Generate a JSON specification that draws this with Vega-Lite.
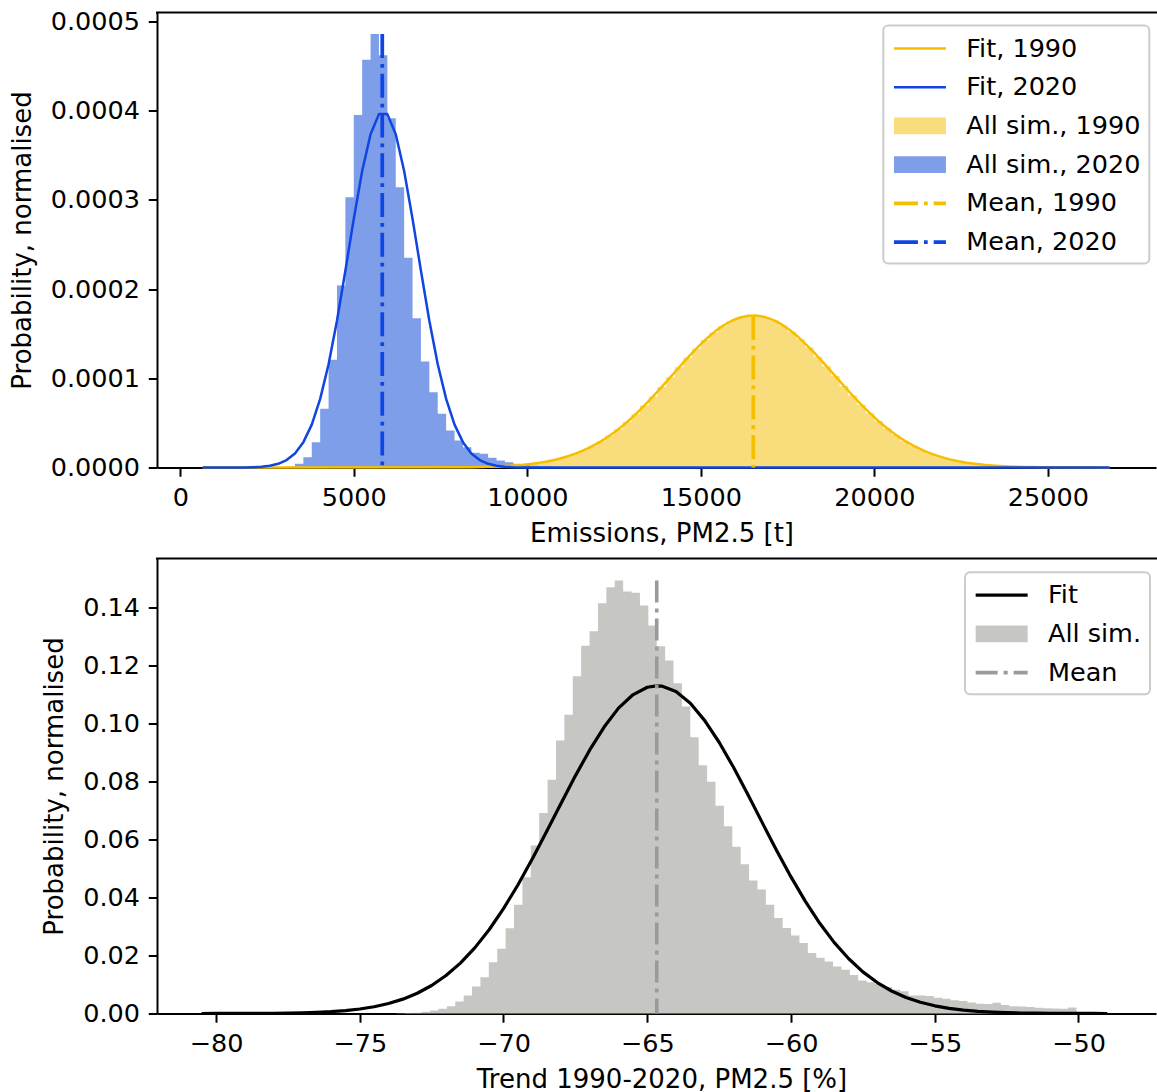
{
  "$schema": "https://vega.github.io/schema/vega-lite/v6.json",
  "background": "white",
  "padding": {"left": 9, "top": 8.5, "right": 0, "bottom": 0},
  "bounds": "flush",
  "spacing": 91,
  "config": {
    "font": "DejaVu Sans",
    "view": {"stroke": null},
    "axis": {
      "labelFont": "DejaVu Sans", "labelFontSize": 25.5, "labelColor": "#000000",
      "titleFont": "DejaVu Sans", "titleFontSize": 26, "titleFontWeight": "normal", "titleColor": "#000000",
      "tickColor": "#000000", "tickWidth": 2, "tickSize": 8.75, "labelPadding": 8.75,
      "domainColor": "#000000", "domainWidth": 2, "grid": false, "titlePadding": 10,
      "labelFlush": false, "labelOverlap": false
    },
    "axisY": {"titlePadding": 15},
    "legend": {"labelFont": "DejaVu Sans", "labelFontSize": 25.5, "labelColor": "#000000", "labelLimit": 400}
  },
  "resolve": {"scale": {"color": "independent"}, "legend": {"color": "independent"}},
  "datasets": {
    "hist_top": [
      {"series": "All sim., 1990", "x0": 8500, "p": 5.8e-7},
      {"series": "All sim., 1990", "x0": 8750, "p": 8.3e-7},
      {"series": "All sim., 1990", "x0": 9000, "p": 1.17e-6},
      {"series": "All sim., 1990", "x0": 9250, "p": 1.63e-6},
      {"series": "All sim., 1990", "x0": 9500, "p": 2.25e-6},
      {"series": "All sim., 1990", "x0": 9750, "p": 3.06e-6},
      {"series": "All sim., 1990", "x0": 10000, "p": 4.12e-6},
      {"series": "All sim., 1990", "x0": 10250, "p": 5.48e-6},
      {"series": "All sim., 1990", "x0": 10500, "p": 7.21e-6},
      {"series": "All sim., 1990", "x0": 10750, "p": 9.38e-6},
      {"series": "All sim., 1990", "x0": 11000, "p": 1.206e-5},
      {"series": "All sim., 1990", "x0": 11250, "p": 1.533e-5},
      {"series": "All sim., 1990", "x0": 11500, "p": 1.927e-5},
      {"series": "All sim., 1990", "x0": 11750, "p": 2.394e-5},
      {"series": "All sim., 1990", "x0": 12000, "p": 2.941e-5},
      {"series": "All sim., 1990", "x0": 12250, "p": 3.573e-5},
      {"series": "All sim., 1990", "x0": 12500, "p": 4.291e-5},
      {"series": "All sim., 1990", "x0": 12750, "p": 5.093e-5},
      {"series": "All sim., 1990", "x0": 13000, "p": 5.979e-5},
      {"series": "All sim., 1990", "x0": 13250, "p": 6.939e-5},
      {"series": "All sim., 1990", "x0": 13500, "p": 7.961e-5},
      {"series": "All sim., 1990", "x0": 13750, "p": 9.031e-5},
      {"series": "All sim., 1990", "x0": 14000, "p": 1.0129e-4},
      {"series": "All sim., 1990", "x0": 14250, "p": 1.1229e-4},
      {"series": "All sim., 1990", "x0": 14500, "p": 1.231e-4},
      {"series": "All sim., 1990", "x0": 14750, "p": 1.3341e-4},
      {"series": "All sim., 1990", "x0": 15000, "p": 1.4293e-4},
      {"series": "All sim., 1990", "x0": 15250, "p": 1.514e-4},
      {"series": "All sim., 1990", "x0": 15500, "p": 1.5857e-4},
      {"series": "All sim., 1990", "x0": 15750, "p": 1.642e-4},
      {"series": "All sim., 1990", "x0": 16000, "p": 1.6808e-4},
      {"series": "All sim., 1990", "x0": 16250, "p": 1.7011e-4},
      {"series": "All sim., 1990", "x0": 16500, "p": 1.7021e-4},
      {"series": "All sim., 1990", "x0": 16750, "p": 1.6837e-4},
      {"series": "All sim., 1990", "x0": 17000, "p": 1.6468e-4},
      {"series": "All sim., 1990", "x0": 17250, "p": 1.5924e-4},
      {"series": "All sim., 1990", "x0": 17500, "p": 1.5222e-4},
      {"series": "All sim., 1990", "x0": 17750, "p": 1.4387e-4},
      {"series": "All sim., 1990", "x0": 18000, "p": 1.3443e-4},
      {"series": "All sim., 1990", "x0": 18250, "p": 1.2419e-4},
      {"series": "All sim., 1990", "x0": 18500, "p": 1.1342e-4},
      {"series": "All sim., 1990", "x0": 18750, "p": 1.0243e-4},
      {"series": "All sim., 1990", "x0": 19000, "p": 9.144e-5},
      {"series": "All sim., 1990", "x0": 19250, "p": 8.07e-5},
      {"series": "All sim., 1990", "x0": 19500, "p": 7.043e-5},
      {"series": "All sim., 1990", "x0": 19750, "p": 6.075e-5},
      {"series": "All sim., 1990", "x0": 20000, "p": 5.182e-5},
      {"series": "All sim., 1990", "x0": 20250, "p": 4.371e-5},
      {"series": "All sim., 1990", "x0": 20500, "p": 3.643e-5},
      {"series": "All sim., 1990", "x0": 20750, "p": 3.003e-5},
      {"series": "All sim., 1990", "x0": 21000, "p": 2.447e-5},
      {"series": "All sim., 1990", "x0": 21250, "p": 1.972e-5},
      {"series": "All sim., 1990", "x0": 21500, "p": 1.571e-5},
      {"series": "All sim., 1990", "x0": 21750, "p": 1.237e-5},
      {"series": "All sim., 1990", "x0": 22000, "p": 9.63e-6},
      {"series": "All sim., 1990", "x0": 22250, "p": 7.41e-6},
      {"series": "All sim., 1990", "x0": 22500, "p": 5.64e-6},
      {"series": "All sim., 1990", "x0": 22750, "p": 4.24e-6},
      {"series": "All sim., 1990", "x0": 23000, "p": 3.16e-6},
      {"series": "All sim., 1990", "x0": 23250, "p": 2.32e-6},
      {"series": "All sim., 1990", "x0": 23500, "p": 1.69e-6},
      {"series": "All sim., 1990", "x0": 23750, "p": 1.21e-6},
      {"series": "All sim., 1990", "x0": 24000, "p": 8.6e-7},
      {"series": "All sim., 1990", "x0": 24250, "p": 6.1e-7},
      {"series": "All sim., 1990", "x0": 24500, "p": 4.2e-7},
      {"series": "All sim., 1990", "x0": 24750, "p": 2.9e-7},
      {"series": "All sim., 1990", "x0": 25000, "p": 0},
      {"series": "All sim., 2020", "x0": 3063, "p": 1.0e-6},
      {"series": "All sim., 2020", "x0": 3305, "p": 4.1e-6},
      {"series": "All sim., 2020", "x0": 3547, "p": 1.15e-5},
      {"series": "All sim., 2020", "x0": 3789, "p": 2.84e-5},
      {"series": "All sim., 2020", "x0": 4031, "p": 6.58e-5},
      {"series": "All sim., 2020", "x0": 4273, "p": 1.207e-4},
      {"series": "All sim., 2020", "x0": 4515, "p": 2.04e-4},
      {"series": "All sim., 2020", "x0": 4757, "p": 3.03e-4},
      {"series": "All sim., 2020", "x0": 4999, "p": 3.95e-4},
      {"series": "All sim., 2020", "x0": 5241, "p": 4.57e-4},
      {"series": "All sim., 2020", "x0": 5483, "p": 4.86e-4},
      {"series": "All sim., 2020", "x0": 5725, "p": 4.62e-4},
      {"series": "All sim., 2020", "x0": 5967, "p": 3.916e-4},
      {"series": "All sim., 2020", "x0": 6209, "p": 3.142e-4},
      {"series": "All sim., 2020", "x0": 6451, "p": 2.35e-4},
      {"series": "All sim., 2020", "x0": 6693, "p": 1.674e-4},
      {"series": "All sim., 2020", "x0": 6935, "p": 1.188e-4},
      {"series": "All sim., 2020", "x0": 7177, "p": 8.44e-5},
      {"series": "All sim., 2020", "x0": 7419, "p": 6.02e-5},
      {"series": "All sim., 2020", "x0": 7661, "p": 4.15e-5},
      {"series": "All sim., 2020", "x0": 7903, "p": 3.03e-5},
      {"series": "All sim., 2020", "x0": 8145, "p": 2.28e-5},
      {"series": "All sim., 2020", "x0": 8387, "p": 1.65e-5},
      {"series": "All sim., 2020", "x0": 8629, "p": 1.54e-5},
      {"series": "All sim., 2020", "x0": 8871, "p": 1.09e-5},
      {"series": "All sim., 2020", "x0": 9113, "p": 7.8e-6},
      {"series": "All sim., 2020", "x0": 9355, "p": 5.9e-6},
      {"series": "All sim., 2020", "x0": 9597, "p": 4.1e-6},
      {"series": "All sim., 2020", "x0": 9839, "p": 3.0e-6},
      {"series": "All sim., 2020", "x0": 10081, "p": 2.0e-6},
      {"series": "All sim., 2020", "x0": 10323, "p": 1.5e-6},
      {"series": "All sim., 2020", "x0": 10565, "p": 1.0e-6},
      {"series": "All sim., 2020", "x0": 10807, "p": 7e-7},
      {"series": "All sim., 2020", "x0": 11049, "p": 0}
    ],
    "fit_top": [
      {"series": "Fit, 1990", "x": 643, "p": 0},
      {"series": "Fit, 1990", "x": 8387, "p": 4e-7},
      {"series": "Fit, 1990", "x": 8629, "p": 5.9e-7},
      {"series": "Fit, 1990", "x": 8871, "p": 8.3e-7},
      {"series": "Fit, 1990", "x": 9113, "p": 1.15e-6},
      {"series": "Fit, 1990", "x": 9355, "p": 1.59e-6},
      {"series": "Fit, 1990", "x": 9597, "p": 2.17e-6},
      {"series": "Fit, 1990", "x": 9839, "p": 2.93e-6},
      {"series": "Fit, 1990", "x": 10081, "p": 3.91e-6},
      {"series": "Fit, 1990", "x": 10323, "p": 5.17e-6},
      {"series": "Fit, 1990", "x": 10565, "p": 6.75e-6},
      {"series": "Fit, 1990", "x": 10807, "p": 8.73e-6},
      {"series": "Fit, 1990", "x": 11049, "p": 1.118e-5},
      {"series": "Fit, 1990", "x": 11291, "p": 1.416e-5},
      {"series": "Fit, 1990", "x": 11533, "p": 1.774e-5},
      {"series": "Fit, 1990", "x": 11775, "p": 2.198e-5},
      {"series": "Fit, 1990", "x": 12017, "p": 2.696e-5},
      {"series": "Fit, 1990", "x": 12259, "p": 3.268e-5},
      {"series": "Fit, 1990", "x": 12501, "p": 3.922e-5},
      {"series": "Fit, 1990", "x": 12743, "p": 4.659e-5},
      {"series": "Fit, 1990", "x": 12985, "p": 5.472e-5},
      {"series": "Fit, 1990", "x": 13227, "p": 6.363e-5},
      {"series": "Fit, 1990", "x": 13469, "p": 7.317e-5},
      {"series": "Fit, 1990", "x": 13711, "p": 8.326e-5},
      {"series": "Fit, 1990", "x": 13953, "p": 9.372e-5},
      {"series": "Fit, 1990", "x": 14195, "p": 1.0437e-4},
      {"series": "Fit, 1990", "x": 14437, "p": 1.15e-4},
      {"series": "Fit, 1990", "x": 14679, "p": 1.2536e-4},
      {"series": "Fit, 1990", "x": 14921, "p": 1.3523e-4},
      {"series": "Fit, 1990", "x": 15163, "p": 1.4429e-4},
      {"series": "Fit, 1990", "x": 15405, "p": 1.5234e-4},
      {"series": "Fit, 1990", "x": 15647, "p": 1.5914e-4},
      {"series": "Fit, 1990", "x": 15889, "p": 1.6445e-4},
      {"series": "Fit, 1990", "x": 16131, "p": 1.6815e-4},
      {"series": "Fit, 1990", "x": 16373, "p": 1.7009e-4},
      {"series": "Fit, 1990", "x": 16615, "p": 1.7024e-4},
      {"series": "Fit, 1990", "x": 16857, "p": 1.6858e-4},
      {"series": "Fit, 1990", "x": 17099, "p": 1.6515e-4},
      {"series": "Fit, 1990", "x": 17341, "p": 1.6006e-4},
      {"series": "Fit, 1990", "x": 17583, "p": 1.535e-4},
      {"series": "Fit, 1990", "x": 17825, "p": 1.4564e-4},
      {"series": "Fit, 1990", "x": 18067, "p": 1.3671e-4},
      {"series": "Fit, 1990", "x": 18309, "p": 1.2697e-4},
      {"series": "Fit, 1990", "x": 18551, "p": 1.1666e-4},
      {"series": "Fit, 1990", "x": 18793, "p": 1.0604e-4},
      {"series": "Fit, 1990", "x": 19035, "p": 9.537e-5},
      {"series": "Fit, 1990", "x": 19277, "p": 8.488e-5},
      {"series": "Fit, 1990", "x": 19519, "p": 7.472e-5},
      {"series": "Fit, 1990", "x": 19761, "p": 6.508e-5},
      {"series": "Fit, 1990", "x": 20003, "p": 5.61e-5},
      {"series": "Fit, 1990", "x": 20245, "p": 4.781e-5},
      {"series": "Fit, 1990", "x": 20487, "p": 4.033e-5},
      {"series": "Fit, 1990", "x": 20729, "p": 3.367e-5},
      {"series": "Fit, 1990", "x": 20971, "p": 2.779e-5},
      {"series": "Fit, 1990", "x": 21213, "p": 2.271e-5},
      {"series": "Fit, 1990", "x": 21455, "p": 1.835e-5},
      {"series": "Fit, 1990", "x": 21697, "p": 1.467e-5},
      {"series": "Fit, 1990", "x": 21939, "p": 1.162e-5},
      {"series": "Fit, 1990", "x": 22181, "p": 9.08e-6},
      {"series": "Fit, 1990", "x": 22423, "p": 7.04e-6},
      {"series": "Fit, 1990", "x": 22665, "p": 5.4e-6},
      {"series": "Fit, 1990", "x": 22907, "p": 4.09e-6},
      {"series": "Fit, 1990", "x": 23149, "p": 3.07e-6},
      {"series": "Fit, 1990", "x": 23391, "p": 2.28e-6},
      {"series": "Fit, 1990", "x": 23633, "p": 1.67e-6},
      {"series": "Fit, 1990", "x": 23875, "p": 1.21e-6},
      {"series": "Fit, 1990", "x": 24117, "p": 8.7e-7},
      {"series": "Fit, 1990", "x": 24359, "p": 6.2e-7},
      {"series": "Fit, 1990", "x": 24601, "p": 4.4e-7},
      {"series": "Fit, 1990", "x": 24843, "p": 3e-7},
      {"series": "Fit, 1990", "x": 26779, "p": 0},
      {"series": "Fit, 2020", "x": 643, "p": 0},
      {"series": "Fit, 2020", "x": 1853, "p": 0},
      {"series": "Fit, 2020", "x": 2095, "p": 3.5e-7},
      {"series": "Fit, 2020", "x": 2337, "p": 8.5e-7},
      {"series": "Fit, 2020", "x": 2579, "p": 1.92e-6},
      {"series": "Fit, 2020", "x": 2821, "p": 4.11e-6},
      {"series": "Fit, 2020", "x": 3063, "p": 8.3e-6},
      {"series": "Fit, 2020", "x": 3305, "p": 1.58e-5},
      {"series": "Fit, 2020", "x": 3547, "p": 2.84e-5},
      {"series": "Fit, 2020", "x": 3789, "p": 4.81e-5},
      {"series": "Fit, 2020", "x": 4031, "p": 7.69e-5},
      {"series": "Fit, 2020", "x": 4273, "p": 1.158e-4},
      {"series": "Fit, 2020", "x": 4515, "p": 1.645e-4},
      {"series": "Fit, 2020", "x": 4757, "p": 2.205e-4},
      {"series": "Fit, 2020", "x": 4999, "p": 2.787e-4},
      {"series": "Fit, 2020", "x": 5241, "p": 3.323e-4},
      {"series": "Fit, 2020", "x": 5483, "p": 3.735e-4},
      {"series": "Fit, 2020", "x": 5725, "p": 3.961e-4},
      {"series": "Fit, 2020", "x": 5967, "p": 3.961e-4},
      {"series": "Fit, 2020", "x": 6209, "p": 3.735e-4},
      {"series": "Fit, 2020", "x": 6451, "p": 3.323e-4},
      {"series": "Fit, 2020", "x": 6693, "p": 2.787e-4},
      {"series": "Fit, 2020", "x": 6935, "p": 2.205e-4},
      {"series": "Fit, 2020", "x": 7177, "p": 1.645e-4},
      {"series": "Fit, 2020", "x": 7419, "p": 1.158e-4},
      {"series": "Fit, 2020", "x": 7661, "p": 7.69e-5},
      {"series": "Fit, 2020", "x": 7903, "p": 4.81e-5},
      {"series": "Fit, 2020", "x": 8145, "p": 2.84e-5},
      {"series": "Fit, 2020", "x": 8387, "p": 1.58e-5},
      {"series": "Fit, 2020", "x": 8629, "p": 8.3e-6},
      {"series": "Fit, 2020", "x": 8871, "p": 4.11e-6},
      {"series": "Fit, 2020", "x": 9113, "p": 1.92e-6},
      {"series": "Fit, 2020", "x": 9355, "p": 8.5e-7},
      {"series": "Fit, 2020", "x": 9597, "p": 3.5e-7},
      {"series": "Fit, 2020", "x": 9839, "p": 1e-7},
      {"series": "Fit, 2020", "x": 26779, "p": 0}
    ],
    "mean_top": [
      {"series": "Mean, 1990", "x": 16513, "top": 0.00017},
      {"series": "Mean, 2020", "x": 5820, "top": 0.000486}
    ],
    "hist_bot": [
      {"series": "All sim.", "x0": -73.722, "p": 0.0001},
      {"series": "All sim.", "x0": -73.43, "p": 0.0002},
      {"series": "All sim.", "x0": -73.138, "p": 0.0003},
      {"series": "All sim.", "x0": -72.846, "p": 0.0006},
      {"series": "All sim.", "x0": -72.554, "p": 0.001},
      {"series": "All sim.", "x0": -72.262, "p": 0.0016},
      {"series": "All sim.", "x0": -71.97, "p": 0.0025},
      {"series": "All sim.", "x0": -71.678, "p": 0.0041},
      {"series": "All sim.", "x0": -71.386, "p": 0.0062},
      {"series": "All sim.", "x0": -71.094, "p": 0.0093},
      {"series": "All sim.", "x0": -70.802, "p": 0.0125},
      {"series": "All sim.", "x0": -70.51, "p": 0.0177},
      {"series": "All sim.", "x0": -70.218, "p": 0.0223},
      {"series": "All sim.", "x0": -69.926, "p": 0.0294},
      {"series": "All sim.", "x0": -69.634, "p": 0.0375},
      {"series": "All sim.", "x0": -69.342, "p": 0.047},
      {"series": "All sim.", "x0": -69.05, "p": 0.0579},
      {"series": "All sim.", "x0": -68.758, "p": 0.0691},
      {"series": "All sim.", "x0": -68.466, "p": 0.0806},
      {"series": "All sim.", "x0": -68.174, "p": 0.0941},
      {"series": "All sim.", "x0": -67.882, "p": 0.103},
      {"series": "All sim.", "x0": -67.59, "p": 0.1163},
      {"series": "All sim.", "x0": -67.298, "p": 0.1268},
      {"series": "All sim.", "x0": -67.006, "p": 0.1318},
      {"series": "All sim.", "x0": -66.714, "p": 0.1415},
      {"series": "All sim.", "x0": -66.422, "p": 0.147},
      {"series": "All sim.", "x0": -66.13, "p": 0.1493},
      {"series": "All sim.", "x0": -65.838, "p": 0.1455},
      {"series": "All sim.", "x0": -65.546, "p": 0.1451},
      {"series": "All sim.", "x0": -65.254, "p": 0.1407},
      {"series": "All sim.", "x0": -64.962, "p": 0.1338},
      {"series": "All sim.", "x0": -64.67, "p": 0.1266},
      {"series": "All sim.", "x0": -64.378, "p": 0.1217},
      {"series": "All sim.", "x0": -64.086, "p": 0.1139},
      {"series": "All sim.", "x0": -63.794, "p": 0.1059},
      {"series": "All sim.", "x0": -63.502, "p": 0.0953},
      {"series": "All sim.", "x0": -63.21, "p": 0.0856},
      {"series": "All sim.", "x0": -62.918, "p": 0.0799},
      {"series": "All sim.", "x0": -62.626, "p": 0.0716},
      {"series": "All sim.", "x0": -62.334, "p": 0.0646},
      {"series": "All sim.", "x0": -62.042, "p": 0.0575},
      {"series": "All sim.", "x0": -61.75, "p": 0.0515},
      {"series": "All sim.", "x0": -61.458, "p": 0.0459},
      {"series": "All sim.", "x0": -61.166, "p": 0.0428},
      {"series": "All sim.", "x0": -60.874, "p": 0.0375},
      {"series": "All sim.", "x0": -60.582, "p": 0.0329},
      {"series": "All sim.", "x0": -60.29, "p": 0.0295},
      {"series": "All sim.", "x0": -59.998, "p": 0.0269},
      {"series": "All sim.", "x0": -59.706, "p": 0.0243},
      {"series": "All sim.", "x0": -59.414, "p": 0.0209},
      {"series": "All sim.", "x0": -59.122, "p": 0.0192},
      {"series": "All sim.", "x0": -58.83, "p": 0.0179},
      {"series": "All sim.", "x0": -58.538, "p": 0.0162},
      {"series": "All sim.", "x0": -58.246, "p": 0.0151},
      {"series": "All sim.", "x0": -57.954, "p": 0.0133},
      {"series": "All sim.", "x0": -57.662, "p": 0.0114},
      {"series": "All sim.", "x0": -57.37, "p": 0.0108},
      {"series": "All sim.", "x0": -57.078, "p": 0.0102},
      {"series": "All sim.", "x0": -56.786, "p": 0.0091},
      {"series": "All sim.", "x0": -56.494, "p": 0.0082},
      {"series": "All sim.", "x0": -56.202, "p": 0.0077},
      {"series": "All sim.", "x0": -55.91, "p": 0.0062},
      {"series": "All sim.", "x0": -55.618, "p": 0.0062},
      {"series": "All sim.", "x0": -55.326, "p": 0.006},
      {"series": "All sim.", "x0": -55.034, "p": 0.0054},
      {"series": "All sim.", "x0": -54.742, "p": 0.0051},
      {"series": "All sim.", "x0": -54.45, "p": 0.0046},
      {"series": "All sim.", "x0": -54.158, "p": 0.0043},
      {"series": "All sim.", "x0": -53.866, "p": 0.0038},
      {"series": "All sim.", "x0": -53.574, "p": 0.0034},
      {"series": "All sim.", "x0": -53.282, "p": 0.0033},
      {"series": "All sim.", "x0": -52.99, "p": 0.0037},
      {"series": "All sim.", "x0": -52.698, "p": 0.0029},
      {"series": "All sim.", "x0": -52.406, "p": 0.0025},
      {"series": "All sim.", "x0": -52.114, "p": 0.0024},
      {"series": "All sim.", "x0": -51.822, "p": 0.0022},
      {"series": "All sim.", "x0": -51.53, "p": 0.002},
      {"series": "All sim.", "x0": -51.238, "p": 0.0018},
      {"series": "All sim.", "x0": -50.946, "p": 0.0017},
      {"series": "All sim.", "x0": -50.654, "p": 0.0016},
      {"series": "All sim.", "x0": -50.362, "p": 0.0021},
      {"series": "All sim.", "x0": -50.07, "p": 0}
    ],
    "fit_bot": [
      {"series": "Fit", "x": -80.5, "p": 0.0000048},
      {"series": "Fit", "x": -80.0, "p": 0.000009},
      {"series": "Fit", "x": -79.5, "p": 0.0000166},
      {"series": "Fit", "x": -79.0, "p": 0.0000298},
      {"series": "Fit", "x": -78.5, "p": 0.000052},
      {"series": "Fit", "x": -78.0, "p": 0.000091},
      {"series": "Fit", "x": -77.5, "p": 0.000153},
      {"series": "Fit", "x": -77.0, "p": 0.000253},
      {"series": "Fit", "x": -76.5, "p": 0.000411},
      {"series": "Fit", "x": -76.0, "p": 0.000655},
      {"series": "Fit", "x": -75.5, "p": 0.00102},
      {"series": "Fit", "x": -75.0, "p": 0.00156},
      {"series": "Fit", "x": -74.5, "p": 0.00234},
      {"series": "Fit", "x": -74.0, "p": 0.00344},
      {"series": "Fit", "x": -73.5, "p": 0.00495},
      {"series": "Fit", "x": -73.0, "p": 0.00698},
      {"series": "Fit", "x": -72.5, "p": 0.00965},
      {"series": "Fit", "x": -72.0, "p": 0.01309},
      {"series": "Fit", "x": -71.5, "p": 0.01738},
      {"series": "Fit", "x": -71.0, "p": 0.02263},
      {"series": "Fit", "x": -70.5, "p": 0.02888},
      {"series": "Fit", "x": -70.0, "p": 0.03614},
      {"series": "Fit", "x": -69.5, "p": 0.04431},
      {"series": "Fit", "x": -69.0, "p": 0.05325},
      {"series": "Fit", "x": -68.5, "p": 0.06273},
      {"series": "Fit", "x": -68.0, "p": 0.07241},
      {"series": "Fit", "x": -67.5, "p": 0.08195},
      {"series": "Fit", "x": -67.0, "p": 0.09089},
      {"series": "Fit", "x": -66.5, "p": 0.09878},
      {"series": "Fit", "x": -66.0, "p": 0.1053},
      {"series": "Fit", "x": -65.5, "p": 0.1099},
      {"series": "Fit", "x": -65.0, "p": 0.1125},
      {"series": "Fit", "x": -64.67, "p": 0.113},
      {"series": "Fit", "x": -64.5, "p": 0.1129},
      {"series": "Fit", "x": -64.0, "p": 0.111},
      {"series": "Fit", "x": -63.5, "p": 0.107},
      {"series": "Fit", "x": -63.0, "p": 0.101},
      {"series": "Fit", "x": -62.5, "p": 0.09354},
      {"series": "Fit", "x": -62.0, "p": 0.08489},
      {"series": "Fit", "x": -61.5, "p": 0.0755},
      {"series": "Fit", "x": -61.0, "p": 0.06582},
      {"series": "Fit", "x": -60.5, "p": 0.05624},
      {"series": "Fit", "x": -60.0, "p": 0.0471},
      {"series": "Fit", "x": -59.5, "p": 0.03866},
      {"series": "Fit", "x": -59.0, "p": 0.0311},
      {"series": "Fit", "x": -58.5, "p": 0.02452},
      {"series": "Fit", "x": -58.0, "p": 0.01895},
      {"series": "Fit", "x": -57.5, "p": 0.01436},
      {"series": "Fit", "x": -57.0, "p": 0.01067},
      {"series": "Fit", "x": -56.5, "p": 0.00776},
      {"series": "Fit", "x": -56.0, "p": 0.00554},
      {"series": "Fit", "x": -55.5, "p": 0.00387},
      {"series": "Fit", "x": -55.0, "p": 0.00265},
      {"series": "Fit", "x": -54.5, "p": 0.00178},
      {"series": "Fit", "x": -54.0, "p": 0.00117},
      {"series": "Fit", "x": -53.5, "p": 0.00076},
      {"series": "Fit", "x": -53.0, "p": 0.00048},
      {"series": "Fit", "x": -52.5, "p": 0.0003},
      {"series": "Fit", "x": -52.0, "p": 0.00018},
      {"series": "Fit", "x": -51.5, "p": 0.00011},
      {"series": "Fit", "x": -51.0, "p": 0.000063},
      {"series": "Fit", "x": -50.5, "p": 0.000036},
      {"series": "Fit", "x": -50.0, "p": 0.00002},
      {"series": "Fit", "x": -49.5, "p": 0.000011},
      {"series": "Fit", "x": -49.0, "p": 0.000006}
    ],
    "mean_bot": [
      {"series": "Mean", "x": -64.67, "top": 0.1493}
    ]
  },
  "vconcat": [
    {
      "width": 999,
      "height": 455,
      "layer": [
        {
          "data": {"name": "hist_top"},
          "mark": {"type": "area", "interpolate": "step-after", "opacity": 1},
          "encoding": {
            "x": {"field": "x0", "type": "quantitative",
                  "scale": {"domain": [-671.5, 28118], "nice": false, "zero": false},
                  "axis": {"values": [0, 5000, 10000, 15000, 20000, 25000], "format": "d", "title": "Emissions, PM2.5 [t]", "titleX": 504.5}},
            "y": {"field": "p", "type": "quantitative", "stack": null,
                  "scale": {"domain": [0, 0.00051], "nice": false},
                  "axis": {"values": [0, 0.0001, 0.0002, 0.0003, 0.0004, 0.0005], "format": ".4f", "title": "Probability, normalised"}},
            "color": {"field": "series", "type": "nominal",
                      "scale": {"domain": ["Fit, 1990", "Fit, 2020", "All sim., 1990", "All sim., 2020", "Mean, 1990", "Mean, 2020"],
                                "range": ["#f5bf00", "#0f45e0", "#f9dc7c", "#7f9eea", "#f5bf00", "#0f45e0"]},
                      "legend": {
                        "title": null, "orient": "none", "legendX": 726.3, "legendY": 13,
                        "symbolSize": 676, "symbolStrokeWidth": 3.75,
                        "labelFontSize": 25.5, "labelLimit": 400, "labelOffset": 45,
                        "rowPadding": 9.7, "padding": 8,
                        "strokeColor": "#cccccc", "fillColor": "rgba(255,255,255,0.8)", "cornerRadius": 5,
                        "encoding": {
                          "legend": {"strokeWidth": {"value": 2}},
                          "symbols": {
                            "shape": {"value": {"expr": "indexof(datum.label,'All')===0 ? 'M-0.95,-0.65H3.05V0.65H-0.95Z' : indexof(datum.label,'Fit')===0 ? 'M-0.95,-0.096H3.05V0.096H-0.95Z' : 'M-0.95,0H3.05'"}},
                            "fill": {"value": {"expr": "datum.label==='All sim., 1990' ? '#f9dc7c' : datum.label==='All sim., 2020' ? '#7f9eea' : datum.label==='Fit, 1990' ? '#f5bf00' : datum.label==='Fit, 2020' ? '#0f45e0' : 'transparent'"}},
                            "stroke": {"value": {"expr": "datum.label==='Mean, 1990' ? '#f5bf00' : datum.label==='Mean, 2020' ? '#0f45e0' : 'transparent'"}},
                            "strokeOpacity": {"value": {"expr": "indexof(datum.label,'Mean')===0 ? 1 : 0"}},
                            "fillOpacity": {"value": 1},
                            "strokeDash": {"value": {"expr": "indexof(datum.label,'Mean')===0 ? [24,6,3.75,6] : [1,0]"}},
                            "strokeCap": {"value": "butt"},
                            "opacity": {"value": 1}
                          }
                        }
                      }}
          }
        },
        {
          "data": {"name": "fit_top"},
          "mark": {"type": "line", "strokeWidth": 2.5, "strokeJoin": "round"},
          "encoding": {
            "x": {"field": "x", "type": "quantitative", "scale": {"domain": [-671.5, 28118], "nice": false, "zero": false},
                  "axis": {"values": [0, 5000, 10000, 15000, 20000, 25000], "format": "d", "title": "Emissions, PM2.5 [t]", "titleX": 504.5}},
            "y": {"field": "p", "type": "quantitative", "scale": {"domain": [0, 0.00051], "nice": false},
                  "axis": {"values": [0, 0.0001, 0.0002, 0.0003, 0.0004, 0.0005], "format": ".4f", "title": "Probability, normalised"}},
            "color": {"field": "series", "type": "nominal",
                      "scale": {"domain": ["Fit, 1990", "Fit, 2020", "All sim., 1990", "All sim., 2020", "Mean, 1990", "Mean, 2020"],
                                "range": ["#f5bf00", "#0f45e0", "#f9dc7c", "#7f9eea", "#f5bf00", "#0f45e0"]},
                      "legend": null}
          }
        },
        {
          "data": {"name": "mean_top"},
          "mark": {"type": "rule", "strokeWidth": 3.75, "strokeDash": [24, 6, 3.75, 6], "strokeCap": "butt"},
          "encoding": {
            "x": {"field": "x", "type": "quantitative", "scale": {"domain": [-671.5, 28118], "nice": false, "zero": false},
                  "axis": {"values": [0, 5000, 10000, 15000, 20000, 25000], "format": "d", "title": "Emissions, PM2.5 [t]", "titleX": 504.5}},
            "y": {"field": "top", "type": "quantitative", "scale": {"domain": [0, 0.00051], "nice": false},
                  "axis": {"values": [0, 0.0001, 0.0002, 0.0003, 0.0004, 0.0005], "format": ".4f", "title": "Probability, normalised"}},
            "y2": {"datum": 0},
            "color": {"field": "series", "type": "nominal",
                      "scale": {"domain": ["Fit, 1990", "Fit, 2020", "All sim., 1990", "All sim., 2020", "Mean, 1990", "Mean, 2020"],
                                "range": ["#f5bf00", "#0f45e0", "#f9dc7c", "#7f9eea", "#f5bf00", "#0f45e0"]},
                      "legend": null}
          }
        },
        {
          "data": {"values": [{}]},
          "mark": {"type": "rule", "color": "#000000", "strokeWidth": 2, "strokeCap": "square"},
          "encoding": {
            "y": {"datum": 0.00051, "type": "quantitative", "scale": {"domain": [0, 0.00051], "nice": false},
                  "axis": {"values": [0, 0.0001, 0.0002, 0.0003, 0.0004, 0.0005], "format": ".4f", "title": "Probability, normalised"}}
          }
        }
      ]
    },
    {
      "width": 999,
      "height": 455,
      "layer": [
        {
          "data": {"name": "hist_bot"},
          "mark": {"type": "area", "interpolate": "step-after", "opacity": 1},
          "encoding": {
            "x": {"field": "x0", "type": "quantitative",
                  "scale": {"domain": [-82.052, -47.304], "nice": false, "zero": false},
                  "axis": {"values": [-80, -75, -70, -65, -60, -55, -50], "format": "d", "title": "Trend 1990-2020, PM2.5 [%]", "titleX": 504.5}},
            "y": {"field": "p", "type": "quantitative", "stack": null,
                  "scale": {"domain": [0, 0.1569], "nice": false},
                  "axis": {"values": [0, 0.02, 0.04, 0.06, 0.08, 0.1, 0.12, 0.14], "format": ".2f", "title": "Probability, normalised"}},
            "color": {"field": "series", "type": "nominal",
                      "scale": {"domain": ["Fit", "All sim.", "Mean"], "range": ["#000000", "#c6c7c3", "#9a9a9a"]},
                      "legend": {
                        "title": null, "orient": "none", "legendX": 808, "legendY": 13.7,
                        "symbolSize": 676, "symbolStrokeWidth": 3.75,
                        "labelFontSize": 25.5, "labelLimit": 400, "labelOffset": 45,
                        "rowPadding": 9.7, "padding": 8,
                        "strokeColor": "#cccccc", "fillColor": "rgba(255,255,255,0.8)", "cornerRadius": 5,
                        "encoding": {
                          "legend": {"strokeWidth": {"value": 2}},
                          "symbols": {
                            "shape": {"value": {"expr": "datum.label==='All sim.' ? 'M-0.95,-0.65H3.05V0.65H-0.95Z' : datum.label==='Fit' ? 'M-0.95,-0.123H3.05V0.123H-0.95Z' : 'M-0.95,0H3.05'"}},
                            "fill": {"value": {"expr": "datum.label==='All sim.' ? '#c6c7c3' : datum.label==='Fit' ? '#000000' : 'transparent'"}},
                            "stroke": {"value": {"expr": "datum.label==='Mean' ? '#9a9a9a' : 'transparent'"}},
                            "strokeOpacity": {"value": {"expr": "datum.label==='Mean' ? 1 : 0"}},
                            "fillOpacity": {"value": 1},
                            "strokeDash": {"value": {"expr": "datum.label==='Mean' ? [22,6,4,6] : [1,0]"}},
                            "strokeCap": {"value": "butt"},
                            "opacity": {"value": 1}
                          }
                        }
                      }}
          }
        },
        {
          "data": {"name": "fit_bot"},
          "mark": {"type": "line", "strokeWidth": 3.2, "strokeJoin": "round"},
          "encoding": {
            "x": {"field": "x", "type": "quantitative", "scale": {"domain": [-82.052, -47.304], "nice": false, "zero": false},
                  "axis": {"values": [-80, -75, -70, -65, -60, -55, -50], "format": "d", "title": "Trend 1990-2020, PM2.5 [%]", "titleX": 504.5}},
            "y": {"field": "p", "type": "quantitative", "scale": {"domain": [0, 0.1569], "nice": false},
                  "axis": {"values": [0, 0.02, 0.04, 0.06, 0.08, 0.1, 0.12, 0.14], "format": ".2f", "title": "Probability, normalised"}},
            "color": {"field": "series", "type": "nominal",
                      "scale": {"domain": ["Fit", "All sim.", "Mean"], "range": ["#000000", "#c6c7c3", "#9a9a9a"]},
                      "legend": null}
          }
        },
        {
          "data": {"name": "mean_bot"},
          "mark": {"type": "rule", "strokeWidth": 3.6, "strokeDash": [22, 6, 4, 6], "strokeCap": "butt"},
          "encoding": {
            "x": {"field": "x", "type": "quantitative", "scale": {"domain": [-82.052, -47.304], "nice": false, "zero": false},
                  "axis": {"values": [-80, -75, -70, -65, -60, -55, -50], "format": "d", "title": "Trend 1990-2020, PM2.5 [%]", "titleX": 504.5}},
            "y": {"field": "top", "type": "quantitative", "scale": {"domain": [0, 0.1569], "nice": false},
                  "axis": {"values": [0, 0.02, 0.04, 0.06, 0.08, 0.1, 0.12, 0.14], "format": ".2f", "title": "Probability, normalised"}},
            "y2": {"datum": 0},
            "color": {"field": "series", "type": "nominal",
                      "scale": {"domain": ["Fit", "All sim.", "Mean"], "range": ["#000000", "#c6c7c3", "#9a9a9a"]},
                      "legend": null}
          }
        },
        {
          "data": {"values": [{}]},
          "mark": {"type": "rule", "color": "#000000", "strokeWidth": 2, "strokeCap": "square"},
          "encoding": {
            "y": {"datum": 0.1569, "type": "quantitative", "scale": {"domain": [0, 0.1569], "nice": false},
                  "axis": {"values": [0, 0.02, 0.04, 0.06, 0.08, 0.1, 0.12, 0.14], "format": ".2f", "title": "Probability, normalised"}}
          }
        }
      ]
    }
  ]
}
